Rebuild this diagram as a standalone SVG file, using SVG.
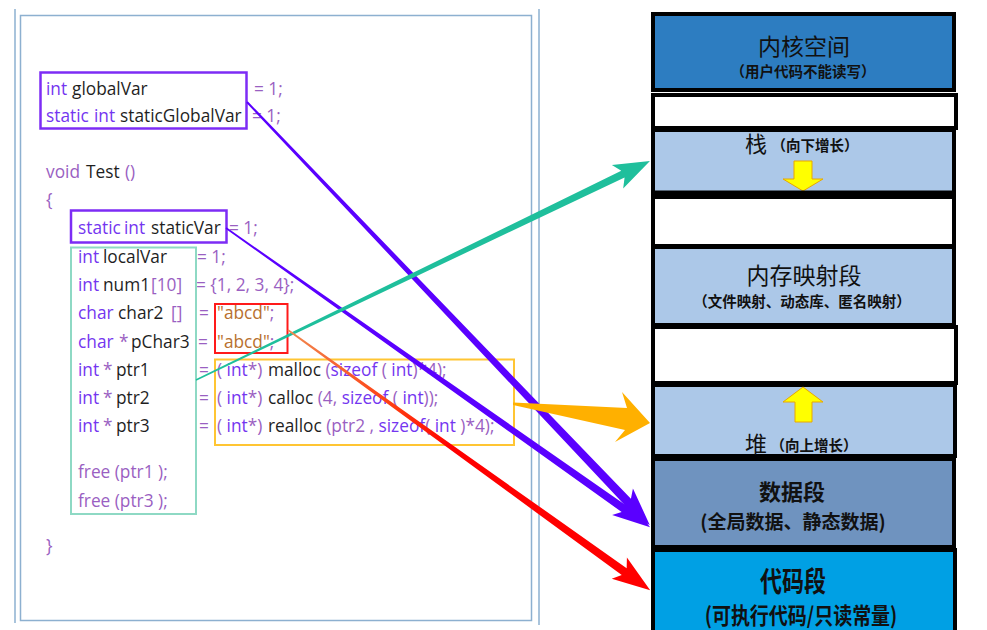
<svg xmlns="http://www.w3.org/2000/svg" width="987" height="630" viewBox="0 0 987 630">
<style>
.c{font-family:"Open Sans","Noto Sans",sans-serif;font-size:17.3px}
.k{fill:#7436F0}
.o{fill:#9A5FC2}
.i{fill:#1F1F1F}
.s{fill:#B8712F}
.cn{font-family:"Noto Sans CJK SC",sans-serif;fill:#111;text-anchor:middle}
.seg{stroke:#000;stroke-width:4}
.lb{fill:#ACC8E8}
.yarr{fill:#FFFF00;stroke:#E9A800;stroke-width:1}
</style>
<defs>
<linearGradient id="redg" gradientUnits="userSpaceOnUse" x1="0" y1="0" x2="446" y2="0">
<stop offset="0" stop-color="#F08A50"/>
<stop offset="0.3" stop-color="#FF3A10"/>
<stop offset="0.45" stop-color="#FF0000"/>
</linearGradient>
</defs>
<rect width="987" height="630" fill="#FFFFFF"/>

<g id="code-panel">
<line x1="15" y1="9" x2="15" y2="623" stroke="#8DB0D0" stroke-width="1.5"/>
<line x1="539" y1="9" x2="539" y2="625" stroke="#8DB0D0" stroke-width="1.5"/>
<rect x="20.5" y="15.5" width="511" height="605" fill="none" stroke="#8DB0D0" stroke-width="1.5"/>
<text class="c" y="95"><tspan x="46" class="k">int</tspan><tspan x="72" class="i">globalVar</tspan><tspan x="254" class="o">= 1;</tspan></text>
<text class="c" y="122"><tspan x="46" class="k">static</tspan><tspan x="94" class="k">int</tspan><tspan x="120" class="i">staticGlobalVar</tspan><tspan x="252" class="o">= 1;</tspan></text>
<text class="c" y="178"><tspan x="46" class="o">void</tspan><tspan x="86" class="i">Test</tspan><tspan x="125" class="o">()</tspan></text>
<text class="c" y="206"><tspan x="46" class="o">{</tspan></text>
<text class="c" y="234"><tspan x="78" class="k">static</tspan><tspan x="124" class="k">int</tspan><tspan x="151" class="i">staticVar</tspan><tspan x="229" class="o">= 1;</tspan></text>
<text class="c" y="263"><tspan x="78" class="k">int</tspan><tspan x="103" class="i">localVar</tspan><tspan x="197" class="o">= 1;</tspan></text>
<text class="c" y="291"><tspan x="78" class="k">int</tspan><tspan x="103" class="i">num1</tspan><tspan x="151" class="o">[10]</tspan><tspan x="196" class="o">= {1, 2, 3, 4};</tspan></text>
<text class="c" y="319"><tspan x="78" class="k">char</tspan><tspan x="118" class="i">char2</tspan><tspan x="171" class="o">[]</tspan><tspan x="199" class="o">=</tspan><tspan x="217" class="s">"abcd"</tspan><tspan class="o">;</tspan></text>
<text class="c" y="348"><tspan x="78" class="k">char</tspan><tspan x="119" class="o">*</tspan><tspan x="131" class="i">pChar3</tspan><tspan x="198" class="o">=</tspan><tspan x="217" class="s">"abcd"</tspan><tspan class="o">;</tspan></text>
<text class="c" y="376"><tspan x="78" class="k">int</tspan><tspan x="103" class="o">*</tspan><tspan x="116" class="i">ptr1</tspan><tspan x="199" class="o">=</tspan><tspan x="217" class="o">(</tspan><tspan class="k"> int</tspan><tspan class="o">*)</tspan><tspan x="268" class="i">malloc</tspan><tspan class="o"> (</tspan><tspan class="k">sizeof</tspan><tspan class="o"> (</tspan><tspan class="k"> int</tspan><tspan class="o">)*4);</tspan></text>
<text class="c" y="404"><tspan x="78" class="k">int</tspan><tspan x="103" class="o">*</tspan><tspan x="116" class="i">ptr2</tspan><tspan x="199" class="o">=</tspan><tspan x="217" class="o">(</tspan><tspan class="k"> int</tspan><tspan class="o">*)</tspan><tspan x="268" class="i">calloc</tspan><tspan class="o"> (4, </tspan><tspan class="k">sizeof</tspan><tspan class="o"> (</tspan><tspan class="k"> int</tspan><tspan class="o">));</tspan></text>
<text class="c" y="432"><tspan x="78" class="k">int</tspan><tspan x="103" class="o">*</tspan><tspan x="116" class="i">ptr3</tspan><tspan x="199" class="o">=</tspan><tspan x="217" class="o">(</tspan><tspan class="k"> int</tspan><tspan class="o">*)</tspan><tspan x="268" class="i">realloc</tspan><tspan class="o"> (ptr2 , </tspan><tspan class="k">sizeof</tspan><tspan class="o">(</tspan><tspan class="k"> int </tspan><tspan class="o">)*4);</tspan></text>
<text class="c" y="478"><tspan x="78" class="o">free (ptr1 );</tspan></text>
<text class="c" y="507"><tspan x="78" class="o">free (ptr3 );</tspan></text>
<text class="c" y="552"><tspan x="46" class="o">}</tspan></text>
</g>

<g id="box-globals"><rect x="40.5" y="72.5" width="206" height="56" fill="none" stroke="#7D2CF5" stroke-width="2.5"/></g>
<g id="box-staticVar"><rect x="71" y="210.5" width="155.5" height="32" fill="none" stroke="#7D2CF5" stroke-width="2.5"/></g>
<g id="box-locals"><rect x="71" y="247.5" width="125" height="266.5" fill="none" stroke="#8ED9C4" stroke-width="2"/></g>
<g id="box-strings"><rect x="215" y="304" width="72.5" height="49" fill="none" stroke="#FF1A1A" stroke-width="2"/></g>
<g id="box-alloc"><rect x="215" y="359.5" width="299" height="85.5" fill="none" stroke="#FFC533" stroke-width="2"/></g>

<g id="mem-kernel">
<rect class="seg" x="653" y="14" width="301" height="76" fill="#2D7DC1"/>
<text class="cn" x="804" y="55" font-size="23">内核空间</text>
<text class="cn" x="803" y="77" font-size="14.5" font-weight="bold">（用户代码不能读写）</text>
</g>
<g id="mem-gap1"><rect class="seg" x="653" y="95" width="303" height="33" fill="#FFFFFF"/></g>
<g id="mem-stack">
<rect class="seg lb" x="653" y="130" width="301" height="63"/>
<text class="cn" x="756" y="152" font-size="22">栈</text>
<text class="cn" x="815" y="151" font-size="14.5" font-weight="bold">（向下增长）</text>
<path class="yarr" d="M794,161 L812,161 L812,179 L823,179 L803,191 L783,179 L794,179 Z"/>
<line x1="651" y1="193.5" x2="956" y2="193.5" stroke="#000" stroke-width="6"/>
</g>
<g id="mem-gap2"><rect class="seg" x="653" y="197" width="301" height="49" fill="#FFFFFF"/></g>
<g id="mem-mmap">
<rect class="seg lb" x="653" y="247" width="301" height="78"/>
<text class="cn" x="804" y="284" font-size="23">内存映射段</text>
<text class="cn" x="802" y="307" font-size="14.5" font-weight="bold">（文件映射、动态库、匿名映射）</text>
</g>
<g id="mem-gap3"><rect class="seg" x="653" y="327" width="303" height="56" fill="#FFFFFF"/></g>
<g id="mem-heap">
<rect class="seg lb" x="653" y="385" width="302" height="71"/>
<path class="yarr" d="M803,387 L823,402 L812,402 L812,422 L795,422 L795,402 L783,402 Z"/>
<text class="cn" x="756" y="452" font-size="22">堆</text>
<text class="cn" x="814" y="451" font-size="14.5" font-weight="bold">（向上增长）</text>
</g>
<g id="mem-data">
<rect class="seg" x="653" y="459" width="301" height="88" fill="#6F93BF"/>
<text class="cn" x="792" y="500" font-size="22" font-weight="bold">数据段</text>
<text class="cn" x="793" y="529" font-size="19" font-weight="bold">(全局数据、静态数据)</text>
</g>
<g id="mem-code">
<rect class="seg" x="653" y="550" width="302" height="90" fill="#00A0E4"/>
<text class="cn" font-size="22" font-weight="bold" transform="translate(793 592) scale(1 1.3)">代码段</text>
<text class="cn" font-size="19" font-weight="bold" transform="translate(801 624) scale(1 1.2)">(可执行代码/只读常量)</text>
</g>

<g id="connectors">
<path fill="#5A00FF" transform="translate(247 102) rotate(46.4)" d="M0,-1 L552,-4.5 L546,-13 L584,0 L546,13 L552,4.5 L0,1 Z"/>
<path fill="#5A00FF" transform="translate(226 228) rotate(35.2)" d="M0,-0.8 L487,-4 L481,-12 L519,0 L481,12 L487,4 L0,0.8 Z"/>
<path fill="#1FBF9C" transform="translate(196 380) rotate(-25.75)" d="M0,-0.7 L474,-3.8 L468,-13 L504,0 L468,13 L474,3.8 L0,0.7 Z"/>
<path fill="url(#redg)" transform="translate(288 330) rotate(35.7)" d="M0,-0.8 L414,-4.2 L408,-13 L446,0 L408,13 L414,4.2 L0,0.8 Z"/>
<path fill="#FFB000" d="M513,402.5 L627,408 L622,392 L650,423 L615,442 L625,430 L513,405 Z"/>
</g>
</svg>
